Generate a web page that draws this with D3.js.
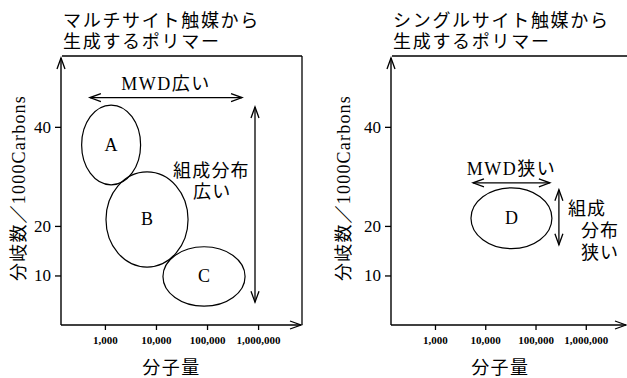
<!DOCTYPE html>
<html><head><meta charset="utf-8">
<script src="https://cdn.jsdelivr.net/npm/d3@7"></script>
<style>
body{margin:0;background:#fff;}
svg{display:block;}
</style></head>
<body>
<svg id="c" width="627" height="378"></svg>
<script>
// ---- data ----
const titles = [["マルチサイト触媒から","生成するポリマー"],["シングルサイト触媒から","生成するポリマー"]];
const xTicks = [1000, 10000, 100000, 1000000];
const yTicks = [10, 20, 40];
const yLabel = "分岐数／1000Carbons";
const xLabel = "分子量";
// ellipses: [panel, name, mwMin, mwMax, brMin, brMax]
const blobNames = ["A","B","C","D"];
const blobPanel = [0,0,0,1];
const blobMw = [[350, 5000],[1050, 42500],[13700, 556000],[5200, 212000]];
const blobBr = [[28.3, 44.4],[11.7, 30.9],[3.8, 15.8],[15.4, 27.7]];
// annotation arrows (data units)
const mwdText = ["MWD広い","MWD狭い"];
const mwdArrowMw = [[508, 485000],[5700, 193000]];
const mwdArrowBr = [45.9, 28.7];
const compArrowMw = [870000, 292000];
const compArrowBr = [[4.6, 44.0],[16.2, 27.3]];
const compText = [["組成分布","広い"],["組成","分布","狭い"]];

// ---- layout ----
const svg = d3.select("#c");
const serif = "'Liberation Serif','Noto Sans CJK JP',serif";
const goth = "'Noto Sans CJK JP',sans-serif";
const panels = [
  {x0:61, x1:302, dom:[Math.pow(10,2.14), Math.pow(10,6.86)], boxRight:true, ylabX:19, yTickLen:6},
  {x0:391, x1:627, dom:[Math.pow(10,2.125), Math.pow(10,6.82)], boxRight:false, ylabX:344, yTickLen:6}
];
const yTop = 56, yBot = 325;
const y = d3.scaleLinear().domain([0, 54.3]).range([yBot, yTop]);

function arrowHead(g, x, yy, dir){ // dir: 'l','r','u','d'
  const L = 11, W = 4;
  let p;
  if(dir==='r') p = [[x-L, yy-W],[x,yy],[x-L,yy+W]];
  if(dir==='l') p = [[x+L, yy-W],[x,yy],[x+L,yy+W]];
  if(dir==='u') p = [[x-W, yy+L],[x,yy],[x+W,yy+L]];
  if(dir==='d') p = [[x-W, yy-L],[x,yy],[x+W,yy-L]];
  g.append("path").attr("d", d3.line()(p)).attr("fill","none").attr("stroke","#000").attr("stroke-width",1.3);
}

panels.forEach((P, i) => {
  const g = svg.append("g");
  const x = d3.scaleLog().domain(P.dom).range([P.x0, P.x1]);
  P.x = x;
  // title
  titles[i].forEach((t, k) => {
    g.append("text").attr("x", P.x0 + 2).attr("y", 27 + k*21)
      .attr("font-family", goth).attr("font-size", 18).attr("letter-spacing", 1.7)
      .text(t);
  });
  // box top line
  g.append("line").attr("x1", P.x0+1).attr("x2", P.boxRight ? P.x1 : 627).attr("y1", yTop).attr("y2", yTop)
    .attr("stroke","#000").attr("stroke-width",1.3);
  if(P.boxRight){
    g.append("line").attr("x1", P.x1).attr("x2", P.x1).attr("y1", yTop).attr("y2", yBot)
      .attr("stroke","#000").attr("stroke-width",1.3);
  }
  // axes lines with arrows
  g.append("line").attr("x1", P.x0).attr("x2", P.x0).attr("y1", yBot).attr("y2", yTop+2)
    .attr("stroke","#000").attr("stroke-width",1.4);
  arrowHead(g, P.x0, yTop+2, 'u');
  g.append("line").attr("x1", P.x0).attr("x2", P.x1-1).attr("y1", yBot).attr("y2", yBot)
    .attr("stroke","#000").attr("stroke-width",1.4);
  arrowHead(g, P.x1-1, yBot, 'r');

  // x axis
  const xa = g.append("g").attr("transform", `translate(0,${yBot})`)
    .call(d3.axisBottom(x).tickValues(xTicks).tickFormat(d3.format(",")).tickSize(5).tickPadding(6));
  xa.select(".domain").remove();
  xa.selectAll("line").attr("stroke-width",1.3);
  xa.selectAll("text").attr("font-family", serif).attr("font-size", 11).attr("font-weight","bold").attr("fill","#000");
  // y axis
  const ya = g.append("g").attr("transform", `translate(${P.x0},0)`)
    .call(d3.axisLeft(y).tickValues(yTicks).tickSize(P.yTickLen).tickPadding(4));
  ya.select(".domain").remove();
  ya.selectAll("line").attr("stroke-width",1.3);
  ya.selectAll("text").attr("font-family", serif).attr("font-size", 17).attr("fill","#000");

  // axis labels
  g.append("text").attr("x", (x(1000)+x(1e6))/2 - 10).attr("y", 374).attr("text-anchor","middle")
    .attr("font-family", goth).attr("font-size", 18).attr("letter-spacing", 1.5).text(xLabel);
  g.append("text").attr("transform", `translate(${P.ylabX + 6},${188}) rotate(-90)`).attr("text-anchor","middle")
    .attr("font-family", serif).attr("font-size", 18).attr("letter-spacing", 1.2).text(yLabel);
});

// ellipses
blobNames.forEach((n, j) => {
  const P = panels[blobPanel[j]], x = P.x;
  const xa = x(blobMw[j][0]), xb = x(blobMw[j][1]);
  const ya = y(blobBr[j][1]), yb = y(blobBr[j][0]);
  svg.append("ellipse").attr("cx",(xa+xb)/2).attr("cy",(ya+yb)/2).attr("rx",(xb-xa)/2).attr("ry",(yb-ya)/2)
    .attr("fill","none").attr("stroke","#000").attr("stroke-width",1.2);
  svg.append("text").attr("x",(xa+xb)/2).attr("y",(ya+yb)/2 + 6).attr("text-anchor","middle")
    .attr("font-family", serif).attr("font-size", 18).text(n);
});

// annotations
panels.forEach((P, i) => {
  const x = P.x, g = svg.append("g");
  const ax = mwdArrowMw[i].map(x), ay = y(mwdArrowBr[i]);
  g.append("line").attr("x1",ax[0]).attr("x2",ax[1]).attr("y1",ay).attr("y2",ay).attr("stroke","#000").attr("stroke-width",1.3);
  arrowHead(g, ax[0], ay, 'l'); arrowHead(g, ax[1], ay, 'r');
  g.append("text").attr("x",(ax[0]+ax[1])/2).attr("y", ay - 8).attr("text-anchor","middle")
    .attr("font-family", serif).attr("font-size", 18).attr("letter-spacing", 1.5).text(mwdText[i]);
  const vx = x(compArrowMw[i]), vy = compArrowBr[i].map(y);
  g.append("line").attr("x1",vx).attr("x2",vx).attr("y1",vy[0]).attr("y2",vy[1]).attr("stroke","#000").attr("stroke-width",1.3);
  arrowHead(g, vx, vy[1], 'u'); arrowHead(g, vx, vy[0], 'd');
  if(i===0){
    g.append("text").attr("x", vx - 82).attr("y", 177).attr("font-family", goth).attr("font-size", 18).attr("letter-spacing",1.2).text(compText[0][0]);
    g.append("text").attr("x", vx - 62).attr("y", 198).attr("font-family", goth).attr("font-size", 18).attr("letter-spacing",1.2).text(compText[0][1]);
  } else {
    g.append("text").attr("x", vx + 9).attr("y", 215).attr("font-family", goth).attr("font-size", 18).attr("letter-spacing",1.2).text(compText[1][0]);
    g.append("text").attr("x", vx + 22).attr("y", 237).attr("font-family", goth).attr("font-size", 18).attr("letter-spacing",1.2).text(compText[1][1]);
    g.append("text").attr("x", vx + 22).attr("y", 259).attr("font-family", goth).attr("font-size", 18).attr("letter-spacing",1.2).text(compText[1][2]);
  }
});
</script>
</body></html>
